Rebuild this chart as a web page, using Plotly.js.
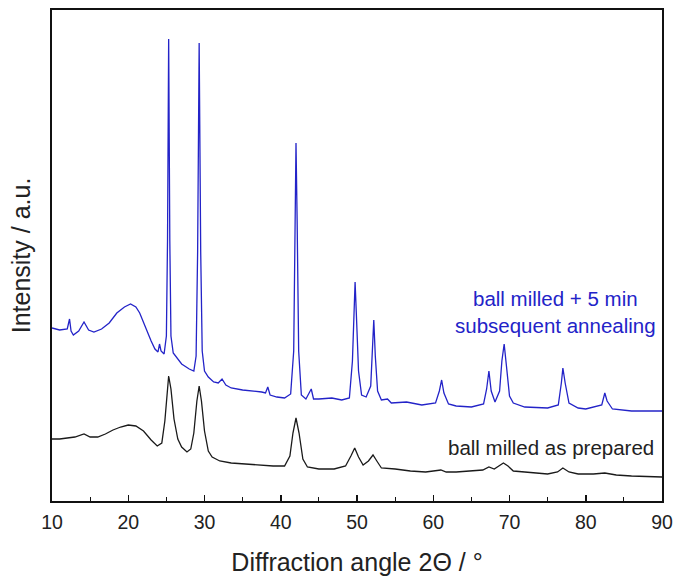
<!DOCTYPE html>
<html><head><meta charset="utf-8">
<script src="https://cdn.plot.ly/plotly-3.0.1.min.js"></script>
<style>html,body{margin:0;padding:0;background:#fff}#chart{width:678px;height:577px}</style>
</head><body><div id="chart"></div>
<script>
// Annealed sample (blue), angle in degrees 2Θ and intensity (a.u.)
const annealedAngle = [10,11,12.0,12.3,12.5,12.8,13.5,14.2,14.8,15.5,16.5,17.5,18.5,19.5,20.3,21,21.5,22,22.5,23,23.5,23.9,24.1,24.3,24.7,25.0,25.15,25.3,25.45,25.6,25.9,26.3,27,28,28.6,28.9,29.1,29.3,29.5,29.7,30.0,30.5,31.2,31.8,32.3,32.8,33.5,35,36.5,37.5,38.0,38.3,38.6,39.5,40.5,41.3,41.7,41.9,42.0,42.15,42.35,42.7,43.3,44.0,44.3,45,46.7,48,49.0,49.4,49.6,49.75,49.9,50.2,50.6,51.2,51.8,52.0,52.2,52.4,52.7,53.2,54.0,54.5,56.5,58.5,60.3,60.8,61.1,61.4,62,63,65,66.6,67.0,67.3,67.6,68.1,68.7,69.0,69.3,69.6,70.0,70.5,72,75,76.4,76.8,77.0,77.3,77.8,79,80,82.1,82.5,82.8,83.5,86,90];
const annealedIntensity = [173,171,172,182,170,166,170,179,171,169,172,178,188,194,197,194,188,178,168,160,152,149,157,150,147,165,260,462,260,165,148,144,137,132,130,145,250,458,250,150,130,124,119,118,122,116,113,111,110,109,108,114,106,104,103,107,150,280,358,280,150,106,102,112,102,102,103,101,103,140,200,219,190,130,106,104,115,150,181,145,110,101,102,98,99,96,98,110,121,108,97,95,94,97,112,130,110,99,110,140,157,135,105,98,94,93,96,118,133,118,98,93,92,96,108,100,92,90,90];
// As-prepared sample (black)
const preparedAngle = [10,11,12,13,14.2,15,16,17,18,19,20,21,22,23,23.8,24.4,24.8,25.1,25.3,25.6,26,26.5,27,27.7,28.2,28.6,29.0,29.3,29.6,30,30.5,31,32,33.5,35,37,39,40.5,41.2,41.6,42,42.4,42.9,43.5,45,47,48.5,49.2,49.7,50.2,50.8,51.5,52.1,52.6,53.2,55,57,59,60.5,61,61.7,63,66.5,67.3,68,68.7,69.2,69.8,70.5,72,75,76.3,77,77.8,79,81,82.5,84,86,90];
const preparedIntensity = [62,62,63,64,67,64,64,67,71,74,76,75,70,61,55,58,80,110,125,112,82,62,54,49,52,68,100,115,100,70,50,44,40,38,37,36,35,35,45,68,83,68,42,34,32,32,35,45,53,44,36,40,46,40,33,32,30,29,30,31,29,29,31,34,32,36,38,35,30,29,27,29,33,29,27,27,28,26,25,24];
const xTickVals = [10,20,30,40,50,60,70,80,90];
const labelAnnealed = "ball milled + 5 min<br>subsequent annealing";
const labelPrepared = "ball milled as prepared";

const font = "Liberation Sans, Arial, sans-serif";
const traces = [
  {x: annealedAngle, y: annealedIntensity, type:'scatter', mode:'lines', line:{color:'#2323c8', width:1.3}, hoverinfo:'skip'},
  {x: preparedAngle, y: preparedIntensity, type:'scatter', mode:'lines', line:{color:'#1a1a1a', width:1.3}, hoverinfo:'skip'}
];
const layout = {
  width:678, height:577, showlegend:false,
  paper_bgcolor:'#fff', plot_bgcolor:'#fff',
  margin:{l:52, r:16, t:10, b:76},
  font:{family:font, color:'#222'},
  xaxis:{range:[10,90], tickvals:xTickVals, ticks:'inside', ticklen:6, tickwidth:1.5, tickcolor:'#111',
    minor:{dtick:5, tick0:5, ticks:'inside', ticklen:4, tickwidth:1.2, tickcolor:'#111'},
    showline:true, linecolor:'#111', linewidth:2, mirror:true, showgrid:false, zeroline:false,
    tickfont:{size:19.5, color:'#222'}, ticklabelstandoff:3,
    title:{text:'Diffraction angle 2Θ / °', font:{size:25, color:'#222'}, standoff:21}},
  yaxis:{range:[0,491], showticklabels:false, ticks:'', showline:true, linecolor:'#111', linewidth:2, mirror:true,
    showgrid:false, zeroline:false,
    title:{text:'Intensity / a.u.', font:{size:25, color:'#222'}, standoff:12}},
  annotations:[
    {x:75.97, y:189, xref:'x', yref:'y', text:labelAnnealed, showarrow:false, align:'center',
     font:{size:20.5, color:'#2323c8', family:font}},
    {x:75.4, y:54, xref:'x', yref:'y', text:labelPrepared, showarrow:false, align:'center',
     font:{size:20.5, color:'#222', family:font}}
  ]
};
Plotly.newPlot('chart', traces, layout, {displayModeBar:false, staticPlot:true});
</script></body></html>
